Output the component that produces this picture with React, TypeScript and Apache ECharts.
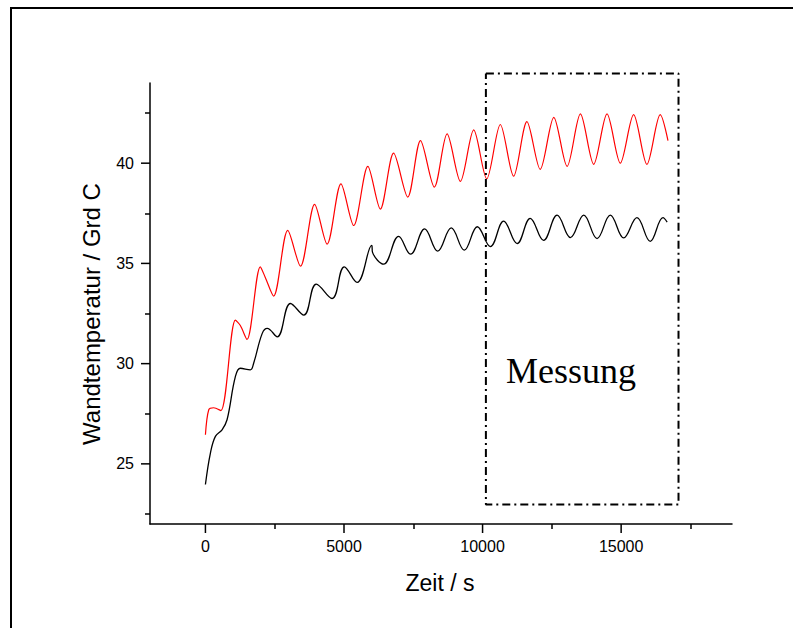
import React, { useEffect, useRef } from "react";
import * as echarts from "echarts";

// Time (s) and wall temperature (Grd C)
const redSeries: [number, number][] = [
  [0, 26.45], [120, 27.7], [300, 27.8], [560, 27.66], [1080, 32.17], [1260, 31.9], [1500, 31.21],
  [1980, 34.83], [2160, 34.3], [2460, 33.37], [2970, 36.65], [3430, 34.86], [3940, 37.95],
  [4390, 35.96], [4890, 38.97], [5350, 36.89], [5860, 39.84], [6310, 37.71], [6790, 40.5],
  [7300, 38.31], [7760, 41.13], [8260, 38.81], [8720, 41.46], [9200, 39.09], [9680, 41.66],
  [10150, 39.22], [10640, 41.93], [11120, 39.35], [11600, 42.07], [12080, 39.69], [12570, 42.29],
  [13050, 39.84], [13530, 42.46], [14010, 39.94], [14490, 42.46], [14970, 40.0], [15450, 42.42],
  [15930, 39.94], [16410, 42.42], [16690, 41.13],
];

const blackSeries: [number, number][] = [
  [0, 23.97], [180, 25.54], [360, 26.37], [600, 26.7], [780, 27.2], [1080, 29.35], [1260, 29.77],
  [1620, 29.69], [1740, 30.02], [2050, 31.51], [2230, 31.76], [2590, 31.34], [3070, 33.0],
  [3550, 32.42], [4000, 33.97], [4570, 33.25], [5010, 34.83], [5470, 34.05], [6000, 35.9],
  [6030, 35.55], [6430, 34.96], [6970, 36.35], [7400, 35.46], [7910, 36.72], [8380, 35.61],
  [8870, 36.77], [9340, 35.66], [9810, 36.83], [10280, 35.84], [10760, 37.11], [11245, 35.99],
  [11720, 37.25], [12200, 36.15], [12690, 37.41], [13170, 36.29], [13650, 37.41], [14130, 36.24],
  [14610, 37.41], [15090, 36.27], [15570, 37.28], [16050, 36.1], [16510, 37.28], [16660, 37.06],
];

// Measurement window ("Messung")
const boxX = [10120, 17070];
const boxY = [22.97, 44.48];

const xMajor = [0, 5000, 10000, 15000];
const xMinor = [2500, 7500, 12500, 17500];
const yMajor = [25, 30, 35, 40];
const yMinor = [22.5, 27.5, 32.5, 37.5, 42.5];

const X_MIN = -2000;
const X_MAX = 19000;
const Y_MIN = 22;
const Y_MAX = 44;

const boxData: [number, number][] = [
  [boxX[0], boxY[1]], [boxX[1], boxY[1]], [boxX[1], boxY[0]], [boxX[0], boxY[0]], [boxX[0], boxY[1]],
];

export default function App() {
  const ref = useRef<HTMLDivElement>(null);
  useEffect(() => {
    if (!ref.current) return;
    const chart = echarts.init(ref.current, null, { renderer: "svg" });
    const sans = "'Liberation Sans', Arial, sans-serif";
    const axisLineStyle = { color: "#000", width: 1.5 };
    const xRange = { min: X_MIN, max: X_MAX };
    const yRange = { min: Y_MIN, max: Y_MAX };
    const gridBox = { left: 150, top: 83, right: 61, bottom: 104 };
    const mainAxis = (values: number[], range: any, margin: number) => ({
      type: "value",
      ...range,
      gridIndex: 0,
      axisLine: { show: true, onZero: false, lineStyle: axisLineStyle },
      axisTick: { show: false },
      axisLabel: {
        show: true, customValues: values, margin, color: "#000", fontSize: 16, fontFamily: sans,
        formatter: (v: number) => String(v),
      },
      splitLine: { show: false },
    });
    const minorAxis = (values: number[], range: any) => ({
      type: "value",
      ...range,
      gridIndex: 1,
      axisLine: { show: false, onZero: false },
      axisTick: { show: true, length: 5, lineStyle: axisLineStyle, customValues: values },
      axisLabel: { show: false },
      splitLine: { show: false },
    });
    const baseGraphic: any[] = [
      {
        type: "rect", shape: { x: 11, y: 8, width: 820, height: 660 },
        style: { fill: "none", stroke: "#000", lineWidth: 2 }, silent: true,
      },
      {
        type: "text", x: 506, y: 371,
        style: { text: "Messung", fontSize: 36, fontFamily: "'Liberation Serif', 'Times New Roman', serif", fill: "#000", align: "left", verticalAlign: "middle" },
      },
      {
        type: "text", x: 440, y: 583,
        style: { text: "Zeit / s", fontSize: 23, fontFamily: sans, fill: "#000", align: "center", verticalAlign: "middle" },
      },
      {
        type: "text", x: 91, y: 314, rotation: Math.PI / 2,
        style: { text: "Wandtemperatur / Grd C", fontSize: 24, fontFamily: sans, fill: "#000", align: "center", verticalAlign: "middle" },
      },
    ];
    chart.setOption({
      animation: false,
      backgroundColor: "#fff",
      grid: [{ ...gridBox }, { ...gridBox }],
      xAxis: [mainAxis(xMajor, xRange, 14), minorAxis(xMinor, xRange)],
      yAxis: [mainAxis(yMajor, yRange, 16), minorAxis(yMinor, yRange)],
      series: [
        {
          type: "line", data: redSeries, showSymbol: false, symbol: "none", smooth: 0.3,
          lineStyle: { color: "#ff0000", width: 1.2 },
        },
        {
          type: "line", data: blackSeries, showSymbol: false, symbol: "none", smooth: 0.4,
          lineStyle: { color: "#000", width: 1.3 },
        },
        {
          type: "line", data: boxData, showSymbol: false, symbol: "none", clip: false,
          lineStyle: { color: "#000", width: 2, type: [8, 4, 2, 4] },
        },
      ],
      graphic: baseGraphic,
    });
    // Major ticks, positioned through the chart's own axis scales
    const tickEls: any[] = [];
    xMajor.forEach((v) => {
      const p = chart.convertToPixel({ gridIndex: 0 }, [v, Y_MIN]) as number[];
      if (p) tickEls.push({
        type: "line", silent: true,
        shape: { x1: p[0], y1: p[1], x2: p[0], y2: p[1] + 9 },
        style: { stroke: "#000", lineWidth: 1.5 },
      });
    });
    yMajor.forEach((v) => {
      const p = chart.convertToPixel({ gridIndex: 0 }, [X_MIN, v]) as number[];
      if (p) tickEls.push({
        type: "line", silent: true,
        shape: { x1: p[0] - 9, y1: p[1], x2: p[0], y2: p[1] },
        style: { stroke: "#000", lineWidth: 1.5 },
      });
    });
    chart.setOption({ graphic: [...baseGraphic, ...tickEls] });
    return () => chart.dispose();
  }, []);
  return (
    <div
      ref={ref}
      style={{ position: "fixed", left: 0, top: 0, width: 793, height: 628, background: "#fff" }}
    />
  );
}
